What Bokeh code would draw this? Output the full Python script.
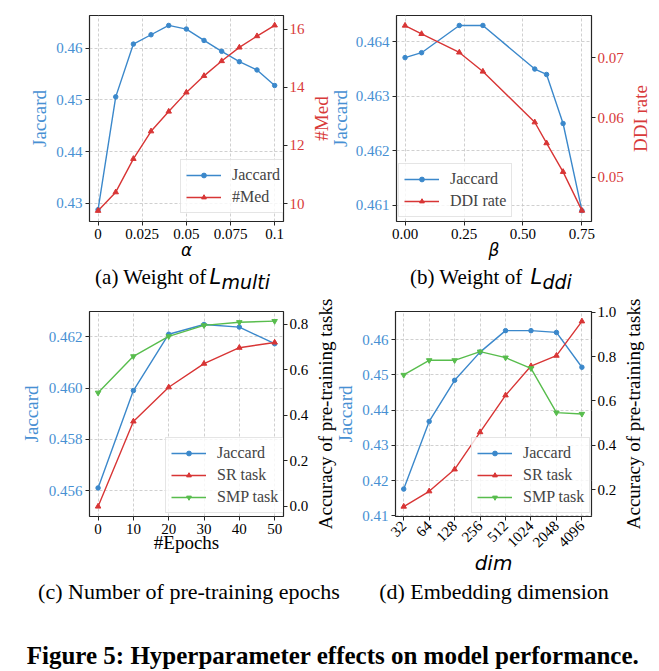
from math import pi
from bokeh.plotting import figure
from bokeh.models import (Range1d, LinearAxis, FixedTicker, Legend, LegendItem,
                          Label, NumeralTickFormatter)
from bokeh.layouts import column, row
from bokeh.embed import file_html
from bokeh.resources import INLINE

# ---------------- data ----------------
alpha = [0, 0.01, 0.02, 0.03, 0.04, 0.05, 0.06, 0.07, 0.08, 0.09, 0.1]
jac_a = [0.4288, 0.4506, 0.4608, 0.4626, 0.4644, 0.4637, 0.4615, 0.4594, 0.4574, 0.4558, 0.4528]
med_a = [9.75, 10.39, 11.54, 12.49, 13.17, 13.83, 14.40, 14.91, 15.38, 15.77, 16.14]

beta = [0, 0.07, 0.23, 0.33, 0.55, 0.6, 0.67, 0.75]
jac_b = [0.46371, 0.46380, 0.46430, 0.46430, 0.46350, 0.46340, 0.46250, 0.46090]
ddi_b = [0.0754, 0.0740, 0.0709, 0.0677, 0.0592, 0.0557, 0.0509, 0.0444]

epochs = [0, 10, 20, 30, 40, 50]
jac_c = [0.4561, 0.4599, 0.4621, 0.46248, 0.46238, 0.46173]
sr_c = [0.0, 0.374, 0.524, 0.628, 0.698, 0.721]
smp_c = [0.50, 0.66, 0.748, 0.796, 0.81, 0.815]

dims = ["32", "64", "128", "256", "512", "1024", "2048", "4096"]
jac_d = [0.4176, 0.4368, 0.4485, 0.4565, 0.4626, 0.4626, 0.4621, 0.4522]
sr_d = [0.123, 0.192, 0.291, 0.459, 0.625, 0.757, 0.804, 0.959]
smp_d = [0.717, 0.783, 0.783, 0.822, 0.795, 0.747, 0.547, 0.541]

ticks_a_x = [0, 0.025, 0.05, 0.075, 0.1]
ticks_a_y = [0.43, 0.44, 0.45, 0.46]
ticks_a_y2 = [10, 12, 14, 16]
ticks_b_x = [0, 0.25, 0.5, 0.75]
ticks_b_y = [0.461, 0.462, 0.463, 0.464]
ticks_b_y2 = [0.05, 0.06, 0.07]
ticks_c_x = [0, 10, 20, 30, 40, 50]
ticks_c_y = [0.456, 0.458, 0.460, 0.462]
ticks_c_y2 = [0.0, 0.2, 0.4, 0.6, 0.8]
ticks_d_y = [0.41, 0.42, 0.43, 0.44, 0.45, 0.46]
ticks_d_y2 = [0.2, 0.4, 0.6, 0.8, 1.0]

# ---------------- style ----------------
BLUE = "#3b88cb"
BLUE_TXT = "#4790d3"
RED = "#d83535"
RED_TXT = "#d83a3a"
GREEN = "#58bd4d"
SERIF = "Liberation Serif"
SANS = "DejaVu Sans"

TOP_H = 263      # first panel row (screen y 0..263)
BOT_H = 280      # second panel row (screen y 298..578)
TOP_BB = TOP_H - 221
BOT_BB = BOT_H - 218


def panel(w, h, bl, br, bt, bb, xr, yr, yr2, xt, yt, y2t, lcol, rcol, fx, fy, fy2):
    p = figure(width=w, height=h, min_border_left=bl, min_border_right=br,
               min_border_top=bt, min_border_bottom=bb,
               x_range=Range1d(*xr), y_range=Range1d(*yr), title=None,
               output_backend="svg", toolbar_location=None, tools="")
    p.extra_y_ranges = {"r": Range1d(*yr2)}
    p.add_layout(LinearAxis(y_range_name="r"), "right")
    p.outline_line_color = "#262626"
    p.outline_line_width = 1.2
    p.outline_line_alpha = 1.0
    xtk = FixedTicker(ticks=xt)
    ytk = FixedTicker(ticks=yt)
    p.below[0].ticker = xtk
    p.xgrid.ticker = xtk
    p.left[0].ticker = ytk
    p.ygrid.ticker = ytk
    p.right[0].ticker = FixedTicker(ticks=y2t)
    if fx:
        p.below[0].formatter = NumeralTickFormatter(format=fx)
    p.left[0].formatter = NumeralTickFormatter(format=fy)
    p.right[0].formatter = NumeralTickFormatter(format=fy2)
    for ax, col in [(p.below[0], "black"), (p.left[0], lcol), (p.right[0], rcol)]:
        ax.axis_line_color = None
        ax.major_tick_in = 0
        ax.major_tick_out = 4
        ax.major_tick_line_color = "#262626"
        ax.minor_tick_line_color = None
        ax.major_label_standoff = 3
        ax.major_label_text_font = SERIF
        ax.major_label_text_font_size = "15px"
        ax.major_label_text_color = col
        ax.axis_label_text_font = SERIF
        ax.axis_label_text_font_size = "19px"
        ax.axis_label_text_font_style = "normal"
        ax.axis_label_text_color = col
    p.right[0].major_label_standoff = 2
    for g in (p.xgrid, p.ygrid):
        g.grid_line_color = "#c4c4c4"
        g.grid_line_dash = "3 2"
        g.grid_line_width = 0.8
    return p


def set_label(ax, text, standoff, font=SERIF, size="19px", style="normal"):
    ax.axis_label = text
    ax.axis_label_standoff = standoff
    ax.axis_label_text_font = font
    ax.axis_label_text_font_size = size
    ax.axis_label_text_font_style = style


def series(p, x, y, color, marker, size, yname=None):
    kw = {} if yname is None else {"y_range_name": yname}
    l = p.line(x, y, line_color=color, line_width=1.4, **kw)
    s = p.scatter(x, y, marker=marker, size=size, fill_color=color,
                  line_color=color, **kw)
    return [l, s]


def legend(p, items, loc):
    lg = Legend(items=[LegendItem(label=t, renderers=r) for t, r in items],
                location=loc, label_text_font=SERIF, label_text_font_size="16px",
                glyph_width=35, glyph_height=12, label_height=20, label_standoff=11,
                spacing=2, padding=5, margin=0, border_line_color="#cccccc",
                border_line_width=1, background_fill_alpha=0.8)
    p.add_layout(lg)


def title_axis(ax, text, color, standoff):
    ax.ticker = FixedTicker(ticks=[])
    ax.axis_line_color = None
    ax.major_tick_in = 0
    ax.major_tick_out = 0
    ax.minor_tick_in = 0
    ax.minor_tick_out = 0
    ax.major_label_standoff = 0
    ax.axis_label = text
    ax.axis_label_standoff = standoff
    ax.axis_label_text_font = SERIF
    ax.axis_label_text_font_size = "19px"
    ax.axis_label_text_font_style = "normal"
    ax.axis_label_text_color = color


def strip(w, h, bt, bb, left, labels):
    # narrow figure whose tick-less left axes carry axis titles that sit between
    # two panels; all read bottom-to-top like the reference (first = innermost)
    s = figure(width=w, height=h, min_border_left=left, min_border_right=0,
               min_border_top=bt, min_border_bottom=bb,
               x_range=Range1d(0, 1), y_range=Range1d(0, 1), x_axis_type=None,
               title=None, output_backend="svg", toolbar_location=None, tools="")
    s.outline_line_color = None
    s.grid.visible = False
    for i, (text, color, standoff) in enumerate(labels):
        if i == 0:
            ax = s.left[0]
        else:
            ax = LinearAxis()
            s.add_layout(ax, "left")
        title_axis(ax, text, color, standoff)
    return s


def blank(w, h):
    c = figure(width=w, height=h, x_range=Range1d(0, w), y_range=Range1d(0, h),
               x_axis_type=None, y_axis_type=None, min_border=0, title=None,
               output_backend="svg", toolbar_location=None, tools="")
    c.outline_line_color = None
    c.grid.visible = False
    return c


def ctext(c, x, y, text, font=SERIF, size="21px", style="normal", align="left"):
    c.add_layout(Label(x=x, y=y, text=text, text_font=font, text_font_size=size,
                       text_font_style=style, text_align=align,
                       text_baseline="middle", text_color="black"))


# ---------------- (a) ----------------
pa = panel(307, TOP_H, 89, 21, 15, TOP_BB, (-0.00485, 0.105), (0.42652, 0.46632), (9.38, 16.48),
           ticks_a_x, ticks_a_y, ticks_a_y2, BLUE_TXT, RED_TXT, "0.[000]", "0.00", "0")
ra1 = series(pa, alpha, jac_a, BLUE, "circle", 4.5)
ra2 = series(pa, alpha, med_a, RED, "triangle", 5.5, "r")
legend(pa, [("Jaccard", ra1), ("#Med", ra2)], (91, 8))
set_label(pa.left[0], "Jaccard", 3)
set_label(pa.below[0], "α", -2, font=SANS, size="17px", style="italic")

# titles between (a) and (b): "Jaccard" of (b) (inner) and "#Med" of (a) (outer)
sab = strip(45, TOP_H, 15, TOP_BB, 36, [("Jaccard", BLUE_TXT, 0), ("#Med", RED_TXT, -5)])

# ---------------- (b) ----------------
pb = panel(274, TOP_H, 43, 33, 15, TOP_BB, (-0.0363, 0.7905), (0.460701, 0.464483), (0.04258, 0.077085),
           ticks_b_x, ticks_b_y, ticks_b_y2, BLUE_TXT, RED_TXT, "0.00", "0.000", "0.00")
rb1 = series(pb, beta, jac_b, BLUE, "circle", 4.5)
rb2 = series(pb, beta, ddi_b, RED, "triangle", 5.5, "r")
legend(pb, [("Jaccard", rb1), ("DDI rate", rb2)], (2, 4))
set_label(pb.below[0], "β", -2, font=SANS, size="17px", style="italic")
sb = strip(33, TOP_H, 15, TOP_BB, 17, [("DDI rate", RED_TXT, 0)])

# ---------------- (c) ----------------
pc = panel(311, BOT_H, 89, 25, 13, BOT_BB, (-2.43, 52.51), (0.454985, 0.462988), (-0.044, 0.8571),
           ticks_c_x, ticks_c_y, ticks_c_y2, BLUE_TXT, "black", "0", "0.000", "0.0")
rc1 = series(pc, epochs, jac_c, BLUE, "circle", 4.5)
rc2 = series(pc, epochs, sr_c, RED, "triangle", 5.5, "r")
rc3 = series(pc, epochs, smp_c, GREEN, "inverted_triangle", 5.5, "r")
legend(pc, [("Jaccard", rc1), ("SR task", rc2), ("SMP task", rc3)], (76, 3))
set_label(pc.left[0], "Jaccard", 4)
set_label(pc.below[0], "#Epochs", -5)

# titles between (c) and (d): "Jaccard" of (d) (inner) and accuracy title of (c) (outer)
scd = strip(47, BOT_H, 13, BOT_BB, 44, [("Jaccard", BLUE_TXT, 0),
                                         ("Accuracy of pre-training tasks", "black", -4)])

# ---------------- (d) ----------------
xd = list(range(len(dims)))
pd_ = panel(261, BOT_H, 37, 26, 13, BOT_BB, (-0.323, 7.377), (0.4098, 0.46804), (0.0782, 1.0032),
            xd, ticks_d_y, ticks_d_y2, BLUE_TXT, "black", None, "0.00", "0.0")
pd_.below[0].major_label_overrides = {i: d for i, d in zip(xd, dims)}
pd_.below[0].major_label_orientation = pi / 4
rd1 = series(pd_, xd, jac_d, BLUE, "circle", 4.5)
rd2 = series(pd_, xd, sr_d, RED, "triangle", 5.5, "r")
rd3 = series(pd_, xd, smp_d, GREEN, "inverted_triangle", 5.5, "r")
legend(pd_, [("Jaccard", rd1), ("SR task", rd2), ("SMP task", rd3)], (76, 3))
set_label(pd_.below[0], "dim", -4, font=SANS, size="20px", style="italic")
sd = strip(40, BOT_H, 13, BOT_BB, 15, [("Accuracy of pre-training tasks", "black", 0)])

# ---------------- captions ----------------
CAP1_H = 298 - TOP_H
cap1 = blank(659, CAP1_H)
ctext(cap1, 206, CAP1_H - 13.5, "(a) Weight of", align="right")
ctext(cap1, 209, CAP1_H - 13.5, "L", font=SANS, size="21px", style="italic")
ctext(cap1, 221, CAP1_H - 18, "multi", font=SANS, size="19px", style="italic")
ctext(cap1, 522, CAP1_H - 13.5, "(b) Weight of", align="right")
ctext(cap1, 530, CAP1_H - 13.5, "L", font=SANS, size="21px", style="italic")
ctext(cap1, 542, CAP1_H - 18, "ddi", font=SANS, size="19px", style="italic")

cap2 = blank(659, 93)
ctext(cap2, 188.5, 80, "(c) Number of pre-training epochs", size="22px", align="center")
ctext(cap2, 493.5, 80, "(d) Embedding dimension", size="22px", align="center")
ctext(cap2, 332.5, 16, "Figure 5: Hyperparameter effects on model performance.",
      size="25px", style="bold", align="center")

layout = column(row(pa, sab, pb, sb), cap1, row(pc, scd, pd_, sd), cap2)

open("out.html", "w").write(file_html(layout, INLINE))
